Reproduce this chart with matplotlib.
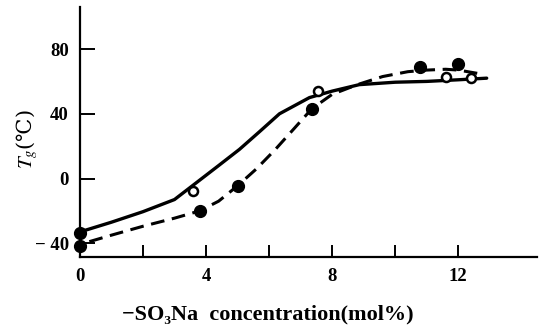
import matplotlib
matplotlib.use("Agg")
import matplotlib.pyplot as plt

plt.rcParams['mathtext.fontset'] = 'stix'
serif = ['Liberation Serif', 'DejaVu Serif']

# -SO3Na concentration (mol%) vs Tg (C)
solid_x = [0, 1.0, 2.0, 3.0, 3.8, 4.4, 5.06, 5.7, 6.33, 7.28, 8.0, 8.86, 10.0, 11.0, 12.0, 12.9]
solid_y = [-33, -27, -20.5, -13, -1, 8, 18, 29, 40, 50, 54, 58, 59.5, 60, 61, 62]

dash_x = [0.3, 1.0, 2.0, 3.0, 3.8, 4.4, 5.0, 5.6, 6.2, 6.8, 7.35, 8.0, 8.8, 9.6, 10.4, 11.0, 11.6, 12.0, 12.6]
dash_y = [-39, -35, -29.5, -24.5, -20, -14, -4.5, 6, 18, 31, 43, 52, 58, 63, 66, 67, 67.5, 67, 65]

open_x = [3.6, 7.55, 11.6, 12.4]
open_y = [-8, 54, 63, 62]

filled_x = [0, 0, 3.8, 5.0, 7.35, 10.8, 12.0]
filled_y = [-33.5, -42, -20, -4.5, 43, 69, 70.7]

xticks = [0, 2, 4, 6, 8, 10, 12]
xlabels = ['0', '', '4', '', '8', '', '12']
yticks = [-40, 0, 40, 80]
ylabels = ['\u2212 40', '0', '40', '80']

fig = plt.figure(figsize=(5.47, 3.31), dpi=100)
ax = fig.add_axes([0.146, 0.224, 0.836, 0.755])

ax.plot(solid_x, solid_y, color='black', lw=2.4, solid_capstyle='round', clip_on=False)
ax.plot(dash_x, dash_y, color='black', lw=2.2, dashes=(4.5, 2.5), clip_on=False)
ax.plot(filled_x, filled_y, 'o', color='black', ms=8.5, clip_on=False, zorder=3)
ax.plot(open_x, open_y, 'o', mfc='white', mec='black', mew=1.8, ms=6.5, clip_on=False, zorder=3)

ax.set_xlim(0, 14.5)
ax.set_ylim(-48.4, 106)
for s in ['top', 'right']:
    ax.spines[s].set_visible(False)
for s in ['left', 'bottom']:
    ax.spines[s].set_linewidth(1.6)

ax.set_xticks(xticks)
ax.set_xticklabels(xlabels, fontfamily=serif, fontweight='bold', fontsize=13.5)
ax.set_yticks(yticks)
ax.set_yticklabels(ylabels, fontfamily=serif, fontweight='bold', fontsize=13.5)
ax.tick_params(axis='x', direction='in', length=9, width=1.4, pad=8)
ax.tick_params(axis='y', direction='in', length=11, width=1.4, pad=8)

ax.set_ylabel('$T_g$(\u2103)', fontsize=15, family=['DejaVu Serif'])
ax.yaxis.set_label_coords(-0.088, 0.47)
ax.set_xlabel('\u2212SO\u2083Na  concentration(mol%)', fontfamily=serif,
              fontweight='bold', fontsize=16)
ax.xaxis.set_label_coords((268 - 80) / 457, -0.19)

fig.savefig('out.png', dpi=100)
